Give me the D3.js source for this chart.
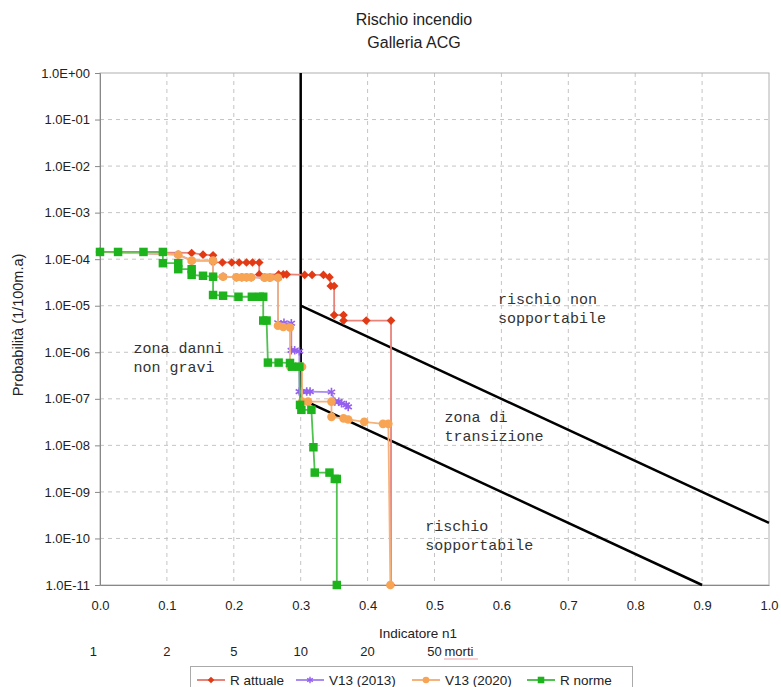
<!DOCTYPE html>
<html>
<head>
<meta charset="utf-8">
<script src="https://cdn.jsdelivr.net/npm/d3@7"></script>
<style>
body { margin: 0; background: #fff; }
text { font-family: "Liberation Sans", Arial, sans-serif; fill: #222; }
.zona { font-family: "Liberation Mono", "DejaVu Sans Mono", monospace; font-size: 15px; fill: #333; }
</style>
</head>
<body>
<div id="grafico"></div>
<script>
// valori (indicatore n1, probabilità)
const xRAttuale = [0, 0.137, 0.154, 0.169, 0.169, 0.183, 0.197, 0.208, 0.219, 0.228, 0.238, 0.238, 0.267, 0.274, 0.279, 0.306, 0.317, 0.334, 0.343, 0.345, 0.350, 0.350, 0.364, 0.364, 0.398, 0.435, 0.435];
const yRAttuale = [1.43e-4, 1.36e-4, 1.25e-4, 1.21e-4, 8.5e-5, 8.5e-5, 8.5e-5, 8.5e-5, 8.5e-5, 8.5e-5, 8.5e-5, 4.7e-5, 4.7e-5, 4.7e-5, 4.7e-5, 4.6e-5, 4.6e-5, 4.6e-5, 4.1e-5, 2.65e-5, 2.65e-5, 6.3e-6, 6.3e-6, 4.8e-6, 4.8e-6, 4.8e-6, 1e-11];

const xV2013 = [0, 0.117, 0.137, 0.169, 0.169, 0.184, 0.204, 0.212, 0.219, 0.226, 0.246, 0.254, 0.266, 0.266, 0.275, 0.286, 0.286, 0.291, 0.298, 0.298, 0.302, 0.309, 0.314, 0.346, 0.351, 0.357, 0.361, 0.368, 0.371];
const yV2013 = [1.43e-4, 1.25e-4, 9.3e-5, 9.3e-5, 4.2e-5, 4.2e-5, 4.1e-5, 4.1e-5, 4.1e-5, 4.1e-5, 4.0e-5, 4.0e-5, 4.0e-5, 4.3e-6, 4.3e-6, 4.2e-6, 1.1e-6, 1.1e-6, 1.05e-6, 1.43e-7, 1.43e-7, 1.43e-7, 1.43e-7, 1.4e-7, 8.7e-8, 8.7e-8, 8.0e-8, 7.4e-8, 6.7e-8];

const xV2020 = [0, 0.117, 0.137, 0.169, 0.169, 0.184, 0.204, 0.212, 0.219, 0.226, 0.246, 0.254, 0.266, 0.266, 0.274, 0.284, 0.284, 0.299, 0.302, 0.302, 0.311, 0.346, 0.346, 0.364, 0.371, 0.395, 0.423, 0.431, 0.434];
const yV2020 = [1.43e-4, 1.25e-4, 9.3e-5, 9.3e-5, 4.2e-5, 4.2e-5, 4.1e-5, 4.1e-5, 4.1e-5, 4.1e-5, 4.0e-5, 4.0e-5, 4.0e-5, 3.7e-6, 3.5e-6, 3.4e-6, 5.0e-7, 4.9e-7, 4.9e-7, 8.7e-8, 8.7e-8, 8.7e-8, 4.1e-8, 3.8e-8, 3.6e-8, 3.2e-8, 2.9e-8, 2.9e-8, 1e-11];

const xRNorme = [0, 0.027, 0.065, 0.094, 0.094, 0.117, 0.117, 0.137, 0.137, 0.154, 0.169, 0.169, 0.184, 0.207, 0.227, 0.239, 0.244, 0.244, 0.249, 0.251, 0.267, 0.284, 0.287, 0.298, 0.299, 0.301, 0.316, 0.319, 0.321, 0.343, 0.351, 0.354, 0.354];
const yRNorme = [1.43e-4, 1.43e-4, 1.43e-4, 1.43e-4, 8.2e-5, 8.2e-5, 6.1e-5, 6.1e-5, 4.6e-5, 4.4e-5, 4.2e-5, 1.7e-5, 1.64e-5, 1.56e-5, 1.56e-5, 1.56e-5, 1.56e-5, 4.8e-6, 4.8e-6, 6.0e-7, 6.0e-7, 5.9e-7, 4.9e-7, 4.9e-7, 7.4e-8, 5.8e-8, 5.8e-8, 9.1e-9, 2.6e-9, 2.6e-9, 1.9e-9, 1.9e-9, 1e-11];

// limiti di accettabilità
const xVerticale = [0.3, 0.3];
const yVerticale = [1, 1e-7];
const xLimiteSup = [0.3, 1.0];
const yLimiteSup = [1e-5, 2.15e-10];
const xLimiteInf = [0.3, 0.9];
const yLimiteInf = [1e-7, 1e-11];

const serie = ["R attuale", "V13 (2013)", "V13 (2020)", "R norme"];
const xTick = [0, 0.1, 0.2, 0.3, 0.4, 0.5, 0.6, 0.7, 0.8, 0.9, 1.0];
const yEsponenti = [0, -1, -2, -3, -4, -5, -6, -7, -8, -9, -10, -11];
const mortiPos = [-0.01, 0.1, 0.2, 0.3, 0.4, 0.5];
const mortiEtich = ["1", "2", "5", "10", "20", "50"];

const zone = [
	{righe: ["zona danni", "non gravi"], x: 0.05, y: 9.7e-7},
	{righe: ["rischio non", "sopportabile"], x: 0.595, y: 1.1e-5},
	{righe: ["zona di", "transizione"], x: 0.515, y: 3.2e-8},
	{righe: ["rischio", "sopportabile"], x: 0.486, y: 1.45e-10}
];

const W = 781, H = 687;
const svg = d3.select("#grafico").append("svg")
	.attr("width", W).attr("height", H);
svg.append("rect").attr("width", W).attr("height", H).attr("fill", "#fff");

const x = d3.scaleLinear().domain([0, 1]).range([100, 769]);
const y = d3.scaleLog().domain([1e-11, 1]).range([585, 73]);

// griglia
const griglia = svg.append("g");
griglia.selectAll("line.gy")
	.data(yEsponenti.slice(1, -1))
	.enter().append("line")
	.attr("x1", x(0)).attr("x2", x(1))
	.attr("y1", e => y(Math.pow(10, e))).attr("y2", e => y(Math.pow(10, e)))
	.attr("stroke", "#c4c4c4").attr("stroke-dasharray", "4,4");
griglia.selectAll("line.gx")
	.data(xTick.slice(1, -1))
	.enter().append("line")
	.attr("x1", d => x(d)).attr("x2", d => x(d))
	.attr("y1", y(1)).attr("y2", y(1e-11))
	.attr("stroke", "#c4c4c4").attr("stroke-dasharray", "4,4");
svg.append("rect")
	.attr("x", x(0)).attr("y", y(1))
	.attr("width", x(1) - x(0)).attr("height", y(1e-11) - y(1))
	.attr("fill", "none").attr("stroke", "#b0b0b0");

// assi
const fmtE = e => "1.0E" + (e >= 0 ? "+" : "-") + String(Math.abs(e)).padStart(2, "0");
const asseY = svg.append("g")
	.attr("transform", `translate(${x(0)},0)`)
	.call(d3.axisLeft(y)
		.tickValues(yEsponenti.map(e => Math.pow(10, e)))
		.tickFormat(v => fmtE(Math.round(Math.log10(v))))
		.tickSize(5).tickPadding(5));
asseY.select(".domain").attr("stroke", "#888");
asseY.selectAll(".tick line").attr("stroke", "#888");
asseY.selectAll(".tick text").attr("font-size", 13).attr("fill", "#333")
	.style("font-family", "'Liberation Sans', Arial, sans-serif");

const asseX = svg.append("g")
	.attr("transform", `translate(0,${y(1e-11)})`)
	.call(d3.axisBottom(x)
		.tickValues(xTick)
		.tickFormat(d3.format(".1f"))
		.tickSize(0).tickPadding(16));
asseX.select(".domain").attr("stroke", "#888");
asseX.selectAll(".tick text").attr("font-size", 13).attr("fill", "#333")
	.style("font-family", "'Liberation Sans', Arial, sans-serif");

// numero di morti
svg.append("g").selectAll("text")
	.data(mortiEtich)
	.enter().append("text")
	.attr("x", (d, i) => x(mortiPos[i]))
	.attr("y", 656)
	.attr("text-anchor", "middle")
	.attr("font-size", 13)
	.text(d => d);
svg.append("text")
	.attr("x", x(0.5) + 10).attr("y", 656)
	.attr("font-size", 13)
	.text("morti");
svg.append("path")
	.attr("d", `M${x(0.5) + 10},659 L${x(0.5) + 43},659`)
	.attr("stroke", "#d44").attr("stroke-width", 1).attr("stroke-dasharray", "1,1");

// titoli
svg.append("text").attr("x", 414).attr("y", 25).attr("text-anchor", "middle")
	.attr("font-size", 16).text("Rischio incendio");
svg.append("text").attr("x", 414).attr("y", 48).attr("text-anchor", "middle")
	.attr("font-size", 16).text("Galleria ACG");
svg.append("text").attr("x", 418).attr("y", 638).attr("text-anchor", "middle")
	.attr("font-size", 13.5).text("Indicatore n1");
svg.append("text")
	.attr("transform", "translate(23,325) rotate(-90)")
	.attr("text-anchor", "middle")
	.attr("font-size", 14.5).text("Probabilità (1/100m.a)");

// linee limite
const linea = d3.line().x(d => x(d[0])).y(d => y(d[1]));
[[xVerticale, yVerticale], [xLimiteSup, yLimiteSup], [xLimiteInf, yLimiteInf]].forEach(([xs, ys]) => {
	svg.append("path")
		.attr("d", linea(d3.zip(xs, ys)))
		.attr("fill", "none").attr("stroke", "#000").attr("stroke-width", 2.5);
});

// zone
zone.forEach(z => {
	const t = svg.append("text").attr("class", "zona")
		.attr("x", x(z.x)).attr("y", y(z.y));
	z.righe.forEach((r, i) => {
		t.append("tspan").attr("x", x(z.x)).attr("dy", i ? 19 : 0).text(r);
	});
});

// serie
const stili = [
	{xs: xRAttuale, ys: yRAttuale, linea: "#e8837a", punto: "#e23a14", tipo: d3.symbolDiamond2, dim: 48, tratto: false},
	{xs: xV2013, ys: yV2013, linea: "#a98cf0", punto: "#9460ee", tipo: d3.symbolAsterisk, dim: 50, tratto: true},
	{xs: xV2020, ys: yV2020, linea: "#f5b27a", punto: "#f7a554", tipo: d3.symbolCircle, dim: 58, tratto: false},
	{xs: xRNorme, ys: yRNorme, linea: "#4fc24f", punto: "#1db31d", tipo: d3.symbolSquare, dim: 72, tratto: false}
];

function disegnaSerie(g, s) {
	const pts = d3.zip(s.xs, s.ys);
	g.append("path")
		.attr("d", linea(pts))
		.attr("fill", "none").attr("stroke", s.linea).attr("stroke-width", 1.8);
	g.selectAll("path.m")
		.data(pts)
		.enter().append("path")
		.attr("transform", d => `translate(${x(d[0])},${y(d[1])})`)
		.attr("d", d3.symbol().type(s.tipo).size(s.dim))
		.attr("fill", s.tratto ? "none" : s.punto)
		.attr("stroke", s.tratto ? s.punto : "none")
		.attr("stroke-width", s.tratto ? 1.6 : 0);
}

stili.forEach(s => disegnaSerie(svg.append("g"), s));

// legenda
const leg = svg.append("g");
leg.append("rect").attr("x", 190.5).attr("y", 666.5).attr("width", 442).attr("height", 28)
	.attr("fill", "#fff").attr("stroke", "#aaa");
const legX = [197, 296, 412, 527];
stili.forEach((s, i) => {
	const g = leg.append("g").attr("transform", `translate(${legX[i]},680)`);
	g.append("line").attr("x1", 0).attr("x2", 28).attr("stroke", s.linea).attr("stroke-width", 2);
	g.append("path").attr("transform", "translate(14,0)")
		.attr("d", d3.symbol().type(s.tipo).size(s.dim * 0.6))
		.attr("fill", s.tratto ? "none" : s.punto)
		.attr("stroke", s.tratto ? s.punto : "none")
		.attr("stroke-width", s.tratto ? 1.4 : 0);
	g.append("text").attr("x", 33).attr("y", 5).attr("font-size", 13.5).text(serie[i]);
});
</script>
</body>
</html>
